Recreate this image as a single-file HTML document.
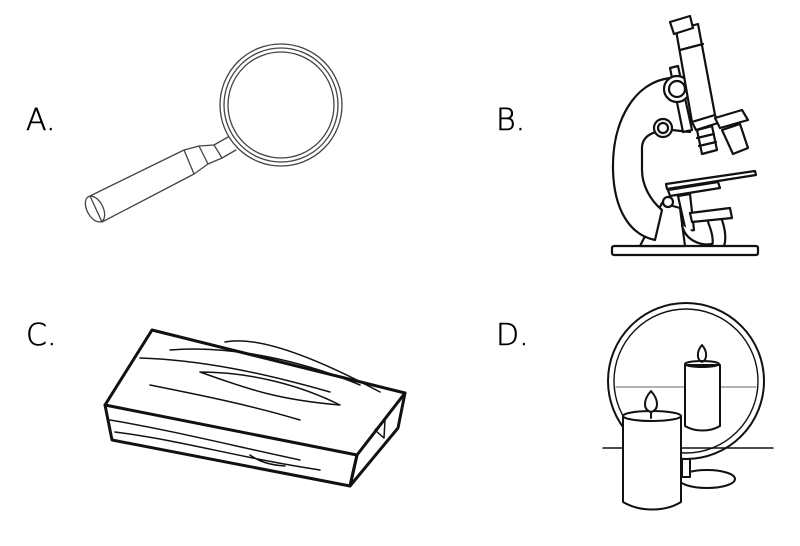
<!DOCTYPE html>
<html><head><style>
html,body{margin:0;padding:0;background:#fff;}
svg{display:block}
text{font-family:"DejaVu Sans","Liberation Sans",sans-serif;font-size:30px;font-weight:200;fill:#000;stroke:#000;stroke-width:0.6}
</style></head><body>
<svg width="800" height="546" viewBox="0 0 800 546" xmlns="http://www.w3.org/2000/svg" fill="none" stroke="#111" stroke-linejoin="round" stroke-linecap="round">
<text x="26" y="130">A.</text>
<text x="496" y="130">B.</text>
<text x="26" y="345">C.</text>
<text x="496" y="345">D.</text>

<!-- Magnifier -->
<g stroke-width="1.3" stroke="#444">
<circle cx="281" cy="105" r="61"/>
<circle cx="281" cy="105" r="57"/>
<circle cx="281" cy="105" r="53"/>
<path d="M228 137 L214 145 L222 158 L236 150"/>
<path d="M214 145 L199 146 L208 164 L222 158"/>
<path d="M199 146 L184 150 L194 174 L208 164"/>
<path d="M184 150 L90 196 L102 222 L194 174"/>
<ellipse cx="95" cy="209" rx="8" ry="14" transform="rotate(-28 95 209)"/>
</g>

<!-- Microscope -->
<g stroke-width="2.2" fill="#fff">
<rect x="612" y="246" width="146" height="9" rx="2"/>
<path d="M640 246 L662 203 L680 208 L685 246 Z"/>
<path d="M670 78 C635 82 612 120 613 170 C614 210 630 235 655 240 L662 210 C650 200 642 185 642 170 L642 148 C642 135 655 130 672 130 L690 132 L685 100 Z"/>
<circle cx="663" cy="128" r="9"/><circle cx="663" cy="128" r="5"/>
<path d="M670 68 L678 66 L692 130 L683 132 Z"/>
<circle cx="677" cy="89" r="13"/><circle cx="677" cy="89" r="8"/>
<path d="M676 30 L698 24 L715 115 L692 122 Z"/>
<path d="M670 22 L690 16 L693 28 L674 34 Z"/>
<path d="M680 50 L703 44"/>
<path d="M692 122 L715 115 L718 123 L696 130 Z"/>
<path d="M697 130 L712 126 L717 150 L702 154 Z"/>
<path d="M697 138 L714 134 M699 146 L716 142"/>
<path d="M715 118 L742 110 L748 120 L720 128 Z"/>
<path d="M722 130 L740 124 L748 148 L733 154 Z"/>
<path d="M666 184 L755 171 L756 175 L667 189 Z"/>
<path d="M668 190 L718 182 L720 188 L670 196 Z"/>
<path d="M678 196 L690 194 L694 230 L686 232 Z"/>
<circle cx="668" cy="202" r="5"/>
<path d="M690 213 L730 208 L732 218 L692 222 Z"/>
<path d="M708 222 C712 232 714 240 712 246 M722 220 C726 232 726 240 724 246"/>
<path d="M682 225 C685 240 700 246 712 244"/>
</g>

<!-- Wood block -->
<g stroke-width="3">
<path d="M105 405 L152 330 L405 393 L357 455 Z"/>
<path d="M105 405 L112 440 L350 486 L357 455"/>
<path d="M357 455 L350 486 L398 428 L405 393"/>
<g stroke-width="1.5">
<path d="M140 358 C200 360 260 372 330 392 M170 350 C230 345 300 360 360 385 M200 372 C250 372 300 385 340 405 C280 400 250 390 200 372 M150 385 C200 395 250 405 300 420 M225 342 C260 335 320 360 380 392"/>
<path d="M110 420 C170 430 230 445 300 460 M115 432 C180 440 240 458 320 470 M250 455 C260 462 270 465 285 466"/>
<path d="M375 430 L385 420 L384 438 Z"/>
</g>
</g>

<!-- Candles & mirror -->
<g stroke-width="2">
<circle cx="686" cy="381" r="78"/>
<circle cx="686" cy="381" r="72" stroke-width="1.4"/>
<line x1="616" y1="387" x2="756" y2="387" stroke-width="1" stroke="#666"/>
<line x1="603" y1="448" x2="773" y2="448" stroke-width="1.5"/>
<ellipse cx="707" cy="479" rx="28" ry="9" fill="#fff"/>
<rect x="682" y="459" width="8" height="18" fill="#fff"/>
<path d="M685 365 L685 426 C695 432 710 432 720 426 L720 365 Z" fill="#fff"/>
<ellipse cx="702" cy="364" rx="17" ry="3"/>
<path d="M702 345 C696 352 697 360 702 362 C707 360 708 352 702 345 Z"/>
<path d="M623 417 L623 502 C640 512 665 512 681 502 L681 417 Z" fill="#fff"/>
<ellipse cx="652" cy="416" rx="29" ry="5" fill="#fff"/>
<path d="M651 391 C643 400 643 410 651 412 C659 410 659 400 651 391 Z" fill="#fff"/>
<line x1="651" y1="412" x2="651" y2="418"/>
</g>
</svg>
</body></html>
